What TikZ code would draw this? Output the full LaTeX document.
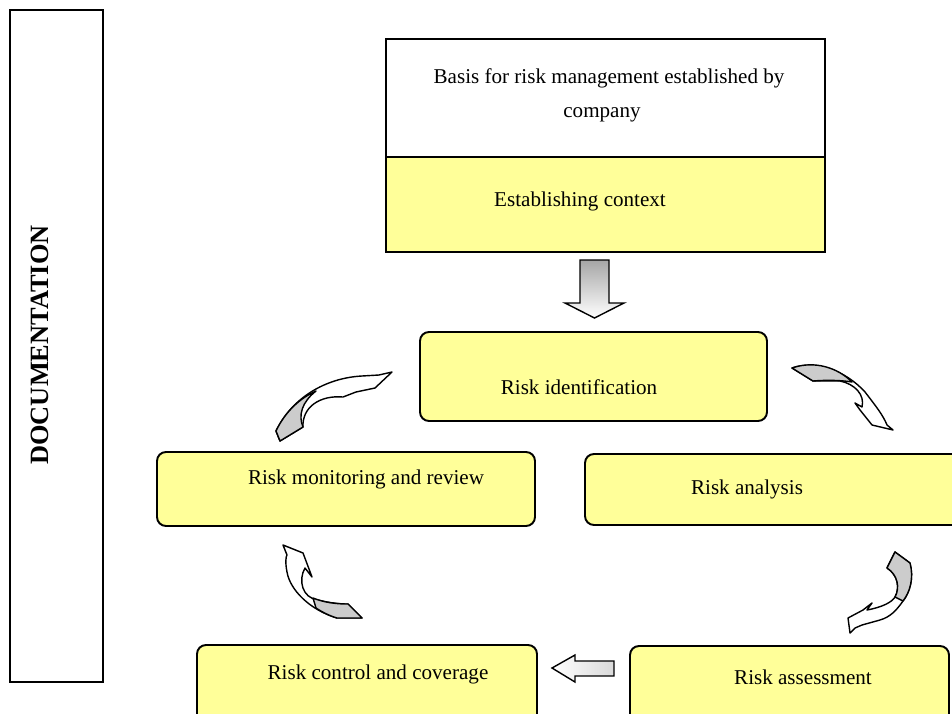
\documentclass[tikz,border=0pt]{standalone}
\usepackage{fontspec}
\setmainfont{Liberation Serif}
\usetikzlibrary{fit}
\definecolor{boxyellow}{RGB}{255,255,153}
\begin{document}
\begin{tikzpicture}[x=0.02cm,y=-0.02cm,
    plainbox/.style={draw,line width=1.1pt,inner sep=0pt},
    yellowbox/.style={plainbox,fill=boxyellow,rounded corners=0.18cm},
    boxtext/.style={anchor=base,inner sep=0pt,font=\fontsize{12}{14}\selectfont},
    curvarrow/.style={draw,fill=white,line width=0.8pt,line join=round},
    twist/.style={draw,fill=black!20,line width=0.8pt,line join=round}]
    \useasboundingbox (0,0) rectangle (952,713);
    \clip (0,0) rectangle (952,713);
    \node[plainbox, fit={(10,10) (103,682)}] (docbox) {};
    \node[rotate=90, inner sep=0pt, font=\fontsize{15}{18}\selectfont\bfseries] (doctext) at (40,345) {DOCUMENTATION};
    \node[plainbox, fit={(386,39) (825,157)}] (basis) {};
    \node[plainbox, fill=boxyellow, fit={(386,157) (825,252)}] (context) {};
    \node[boxtext] (basistext) at (609,84) {Basis for risk management established by};
    \node[boxtext] (companytext) at (602,117) {company};
    \node[boxtext] (contexttext) at (580,206) {Establishing context};
    \node[yellowbox, fit={(420,332) (767,421)}] (ident) {};
    \node[yellowbox, fit={(157,452) (535,526)}] (monitor) {};
    \node[yellowbox, fit={(585,454) (962,525)}] (analysis) {};
    \node[yellowbox, fit={(197,645) (537,730)}] (control) {};
    \node[yellowbox, fit={(630,646) (949,730)}] (assess) {};
    \node[boxtext] (identtext) at (579,394) {Risk identification};
    \node[boxtext] (monitortext) at (366,484) {Risk monitoring and review};
    \node[boxtext] (analysistext) at (747,494) {Risk analysis};
    \node[boxtext] (controltext) at (378,679) {Risk control and coverage};
    \node[boxtext] (assesstext) at (803,684) {Risk assessment};
    \shade[top color=black!35, bottom color=white, draw, line width=0.8pt]
        (580,260) -- (609,260) -- (609,303) -- (624,303) -- (594.5,318)
        -- (565,303) -- (580,303) -- cycle;
    \shade[left color=white, right color=black!15, draw, line width=0.8pt]
        (552,668) -- (575,655) -- (575,661) -- (614,661) -- (614,676)
        -- (575,676) -- (575,682) -- cycle;
    \path[curvarrow] (276,431) .. controls (292,398) and (325,378) .. (362,376)
        -- (379,375) -- (392,372) -- (375,388) -- (356,392) -- (343,397)
        .. controls (320,395) and (302,407) .. (303,427) -- (280,441) -- cycle;
    \path[twist] (276,431) .. controls (285,412) and (300,398) .. (316,391)
        .. controls (302,402) and (298,415) .. (303,427) -- (280,441) -- cycle;
    \path[curvarrow] (792,368) .. controls (815,360) and (845,370) .. (865,392)
        .. controls (875,405) and (883,415) .. (887,425) -- (893,430) -- (872,425)
        -- (860,410) -- (855,403) -- (862,407)
        .. controls (865,395) and (855,384) .. (840,381) -- (813,381) -- cycle;
    \path[twist] (792,368) .. controls (815,360) and (838,368) .. (852,382)
        .. controls (840,380) and (825,380) .. (813,381) -- cycle;
    \path[curvarrow] (895,552) -- (910,563) .. controls (914,578) and (910,592) .. (903,601)
        .. controls (896,611) and (890,617) .. (880,620)
        -- (862,625) -- (855,628) -- (850,633) -- (848,618) -- (863,610) -- (872,603)
        -- (867,610) .. controls (883,607) and (892,602) .. (895,597)
        .. controls (900,588) and (898,575) .. (887,568) -- cycle;
    \path[twist] (895,552) -- (910,563) .. controls (914,578) and (910,592) .. (903,601)
        -- (895,597) .. controls (900,588) and (898,575) .. (887,568) -- cycle;
    \path[curvarrow] (283,545) -- (303,553) -- (312,577) -- (305,568)
        .. controls (298,580) and (302,598) .. (318,600)
        .. controls (330,603) and (340,604) .. (348,604) -- (362,618) -- (337,618)
        .. controls (310,610) and (290,590) .. (287,572)
        .. controls (285,562) and (286,556) .. (287,555) -- cycle;
    \path[twist] (313,598) .. controls (325,603) and (338,604) .. (348,604)
        -- (362,618) -- (337,618) .. controls (330,616) and (322,612) .. (316,608) -- cycle;
\end{tikzpicture}
\end{document}
